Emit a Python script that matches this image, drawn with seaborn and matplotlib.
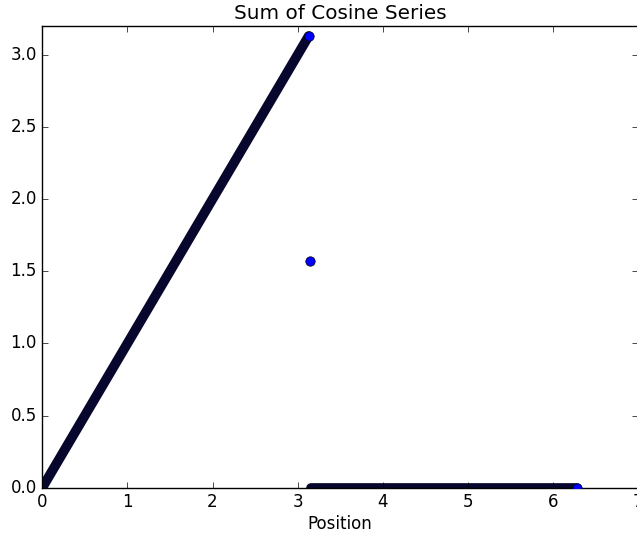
import matplotlib
matplotlib.use("Agg")
import matplotlib.pyplot as plt
import seaborn as sns
import pandas as pd

# Data (segment break points of the series)
rise_x = [0.00, 3.13]
rise_y = [0.00, 3.13]
mid_x = [3.14]
mid_y = [1.57]
flat_x = [3.16, 6.28]
flat_y = [0.00, 0.00]

title = "Sum of Cosine Series"
xlabel = "Position"
xticks = [0, 1, 2, 3, 4, 5, 6, 7]
yticks = [0.0, 0.5, 1.0, 1.5, 2.0, 2.5, 3.0]

plt.style.use("classic")
plt.rcParams["font.family"] = ["DejaVu Sans"]

fig = plt.figure(figsize=(6.37, 5.37), dpi=100, facecolor="white")
ax = fig.add_axes([42.3 / 637, 49.3 / 537, (638 - 42.3) / 637, (487.7 - 26) / 537])
ax.set_facecolor("white")

band_color = "#07072e"
rise = pd.DataFrame({"x": rise_x, "y": rise_y})
flat = pd.DataFrame({"x": flat_x, "y": flat_y})
for seg in (rise, flat):
    sns.lineplot(data=seg, x="x", y="y", sort=False, estimator=None, ax=ax,
                 color=band_color, linewidth=7.0, solid_capstyle="round")

ends = pd.DataFrame({"x": [rise_x[-1], mid_x[0], flat_x[-1]],
                     "y": [rise_y[-1], mid_y[0], flat_y[-1]]})
sns.scatterplot(data=ends, x="x", y="y", ax=ax, marker="o", s=46,
                color="blue", edgecolor="black", linewidth=0.5, zorder=5)

ax.set_xlim(0, 7)
ax.set_ylim(0, 3.2)
ax.set_xticks(xticks)
ax.set_yticks(yticks)
ax.set_xticklabels([str(t) for t in xticks])
ax.set_yticklabels([f"{t:.1f}" for t in yticks])
ax.set_title(title, fontsize=14.4)
ax.set_xlabel(xlabel, fontsize=12, labelpad=3)
ax.set_ylabel("")
ax.tick_params(labelsize=12)

fig.savefig("out.png", dpi=100, facecolor="white")
